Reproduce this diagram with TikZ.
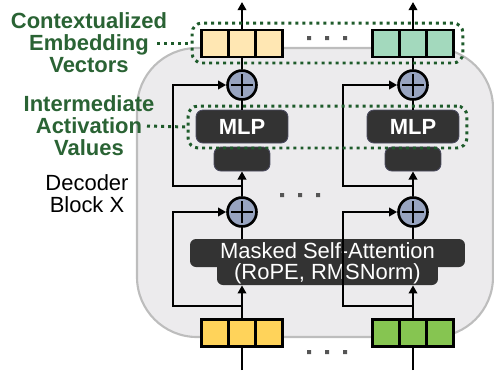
\documentclass[tikz,border=0pt]{standalone}
\usepackage{fontspec}
\setmainfont{Liberation Sans}
\usetikzlibrary{arrows.meta}

\definecolor{blockFill}{HTML}{ECEBED}
\definecolor{blockEdge}{HTML}{BDBDBD}
\definecolor{outLeft}{HTML}{FFE7B3}
\definecolor{outRight}{HTML}{A3D9BD}
\definecolor{inLeft}{HTML}{FFD35A}
\definecolor{inRight}{HTML}{86C551}
\definecolor{sumFill}{HTML}{98A4C0}
\definecolor{darkFill}{HTML}{333333}
\definecolor{darkEdge}{HTML}{4A4A5E}
\definecolor{labelGreen}{HTML}{2A6334}
\definecolor{dotGreen}{HTML}{1E5B2B}
\definecolor{dotGray}{HTML}{555555}

\begin{document}
\begin{tikzpicture}[x=0.02cm, y=-0.02cm,
    font=\fontsize{12.5}{12.6}\selectfont,
    cellNode/.style={draw, line width=1.5pt, minimum width=0.54cm,
      minimum height=0.54cm, inner sep=0pt},
    sumNode/.style={circle, draw, fill=sumFill, line width=1.5pt,
      minimum size=0.58cm, inner sep=0pt,
      path picture={
        \draw[line width=1.5pt] ([xshift=-0.22cm]path picture bounding box.center)
          -- ([xshift=0.22cm]path picture bounding box.center);
        \draw[line width=1.5pt] ([yshift=-0.22cm]path picture bounding box.center)
          -- ([yshift=0.22cm]path picture bounding box.center);}},
    darkNode/.style={fill=darkFill, draw=darkEdge, line width=0.5pt,
      rounded corners=0.14cm, text=white, inner sep=0pt},
    attnNode/.style={fill=darkFill, rounded corners=0.12cm, inner sep=0pt},
    attnText/.style={text=white, inner sep=0pt},
    greenLabel/.style={text=labelGreen, font=\fontsize{12.5}{12.6}\selectfont\bfseries,
      align=center},
    greenBox/.style={draw=dotGreen, line width=1.7pt, dash pattern=on 1.7pt off 2.3pt,
      rounded corners=0.2cm, inner sep=0pt},
    greenLink/.style={draw=dotGreen, line width=1.7pt, dash pattern=on 1.7pt off 2.3pt},
    flow/.style={line width=1.5pt},
    flowArrow/.style={line width=1.5pt, -{Triangle[length=4.6pt,width=4.8pt]}}]
  \useasboundingbox (0,0) rectangle (494,370);

  % decoder block
  \draw[fill=blockFill, draw=blockEdge, line width=1.2pt, rounded corners=1.2cm]
    (137,48) rectangle (493,337);

  % output vectors
  \node[cellNode, fill=outLeft] (outL1) at (215,43.5) {};
  \node[cellNode, fill=outLeft] (outL2) at (242,43.5) {};
  \node[cellNode, fill=outLeft] (outL3) at (269,43.5) {};
  \node[cellNode, fill=outRight] (outR1) at (386,43.5) {};
  \node[cellNode, fill=outRight] (outR2) at (413,43.5) {};
  \node[cellNode, fill=outRight] (outR3) at (440,43.5) {};

  % input vectors
  \node[cellNode, fill=inLeft] (inL1) at (215,333) {};
  \node[cellNode, fill=inLeft] (inL2) at (242,333) {};
  \node[cellNode, fill=inLeft] (inL3) at (269,333) {};
  \node[cellNode, fill=inRight] (inR1) at (386,333) {};
  \node[cellNode, fill=inRight] (inR2) at (413,333) {};
  \node[cellNode, fill=inRight] (inR3) at (440,333) {};

  % residual sums
  \node[sumNode] (sumTopL) at (242,85) {};
  \node[sumNode] (sumBotL) at (242,212) {};
  \node[sumNode] (sumTopR) at (413,85) {};
  \node[sumNode] (sumBotR) at (413,212) {};

  % norm and MLP
  \node[darkNode, minimum width=1.12cm, minimum height=0.48cm] (normL) at (242,159) {};
  \node[darkNode, minimum width=1.12cm, minimum height=0.48cm] (normR) at (413,159) {};
  \node[darkNode, minimum width=1.84cm, minimum height=0.66cm,
    font=\fontsize{12.5}{12.6}\selectfont\bfseries] (mlpL) at (242,126.5) {MLP};
  \node[darkNode, minimum width=1.84cm, minimum height=0.66cm,
    font=\fontsize{12.5}{12.6}\selectfont\bfseries] (mlpR) at (413,126.5) {MLP};

  % attention
  \node[attnNode, minimum width=5.5cm, minimum height=0.56cm] (attnTop) at (327.5,253) {};
  \node[attnNode, minimum width=4.42cm, minimum height=0.46cm] (attnLow) at (327.5,273.5) {};
  \node[attnText] (attnLine1) at (327.5,251) {Masked Self-Attention};
  \node[attnText] (attnLine2) at (327.5,273.5) {(RoPE, RMSNorm)};

  % left column
  \coordinate (topL) at (242,2);
  \coordinate (botL) at (242,370);
  \coordinate (skipUpL) at (242,186);
  \coordinate (skipLowL) at (242,306);
  \draw[flowArrow] (outL2.north) -- (topL);
  \draw[flow] (sumTopL.north) -- (outL2.south);
  \draw[flow] (mlpL.north) -- (sumTopL.south);
  \draw[flowArrow] (sumBotL.north) -- (normL.south);
  \draw[flow] (sumBotL |- attnTop.north) -- (sumBotL.south);
  \draw[flowArrow] (inL2.north) -- (inL2 |- attnLow.south);
  \draw[flow] (botL) -- (inL2.south);
  \draw[flowArrow] (skipUpL) -- ++(-69,0) |- (sumTopL.west);
  \draw[flowArrow] (skipLowL) -- ++(-69,0) |- (sumBotL.west);

  % right column
  \coordinate (topR) at (413,2);
  \coordinate (botR) at (413,370);
  \coordinate (skipUpR) at (413,186);
  \coordinate (skipLowR) at (413,306);
  \draw[flowArrow] (outR2.north) -- (topR);
  \draw[flow] (sumTopR.north) -- (outR2.south);
  \draw[flow] (mlpR.north) -- (sumTopR.south);
  \draw[flowArrow] (sumBotR.north) -- (normR.south);
  \draw[flow] (sumBotR |- attnTop.north) -- (sumBotR.south);
  \draw[flowArrow] (inR2.north) -- (inR2 |- attnLow.south);
  \draw[flow] (botR) -- (inR2.south);
  \draw[flowArrow] (skipUpR) -- ++(-70,0) |- (sumTopR.west);
  \draw[flowArrow] (skipLowR) -- ++(-70,0) |- (sumBotR.west);

  % ellipses
  \fill[dotGray] (307,36) rectangle ++(4,4) (325,36) rectangle ++(4,4)
    (343,36) rectangle ++(4,4);
  \fill[dotGray] (280,193) rectangle ++(4,4) (298,193) rectangle ++(4,4)
    (316,193) rectangle ++(4,4);
  \fill[dotGray] (307,350) rectangle ++(4,4) (325,350) rectangle ++(4,4)
    (343,350) rectangle ++(4,4);

  % highlighted groups
  \node[greenBox, minimum width=5.42cm, minimum height=0.8cm] (embBox) at (327.5,43) {};
  \node[greenBox, minimum width=5.58cm, minimum height=0.84cm] (actBox) at (327.5,127) {};
  \coordinate (embTail) at (157,43);
  \coordinate (actTail) at (147,126);
  \draw[greenLink] (embTail) -- (embBox.west);
  \draw[greenLink] (actTail) -- (actBox.west);

  % labels
  \node[greenLabel] (embLabel) at (89,43) {Contextualized\\Embedding\\Vectors};
  \node[greenLabel] (actLabel) at (89,126) {Intermediate\\Activation\\Values};
  \node[align=center] (blockLabel) at (87,193.5) {Decoder\\Block X};
\end{tikzpicture}
\end{document}
